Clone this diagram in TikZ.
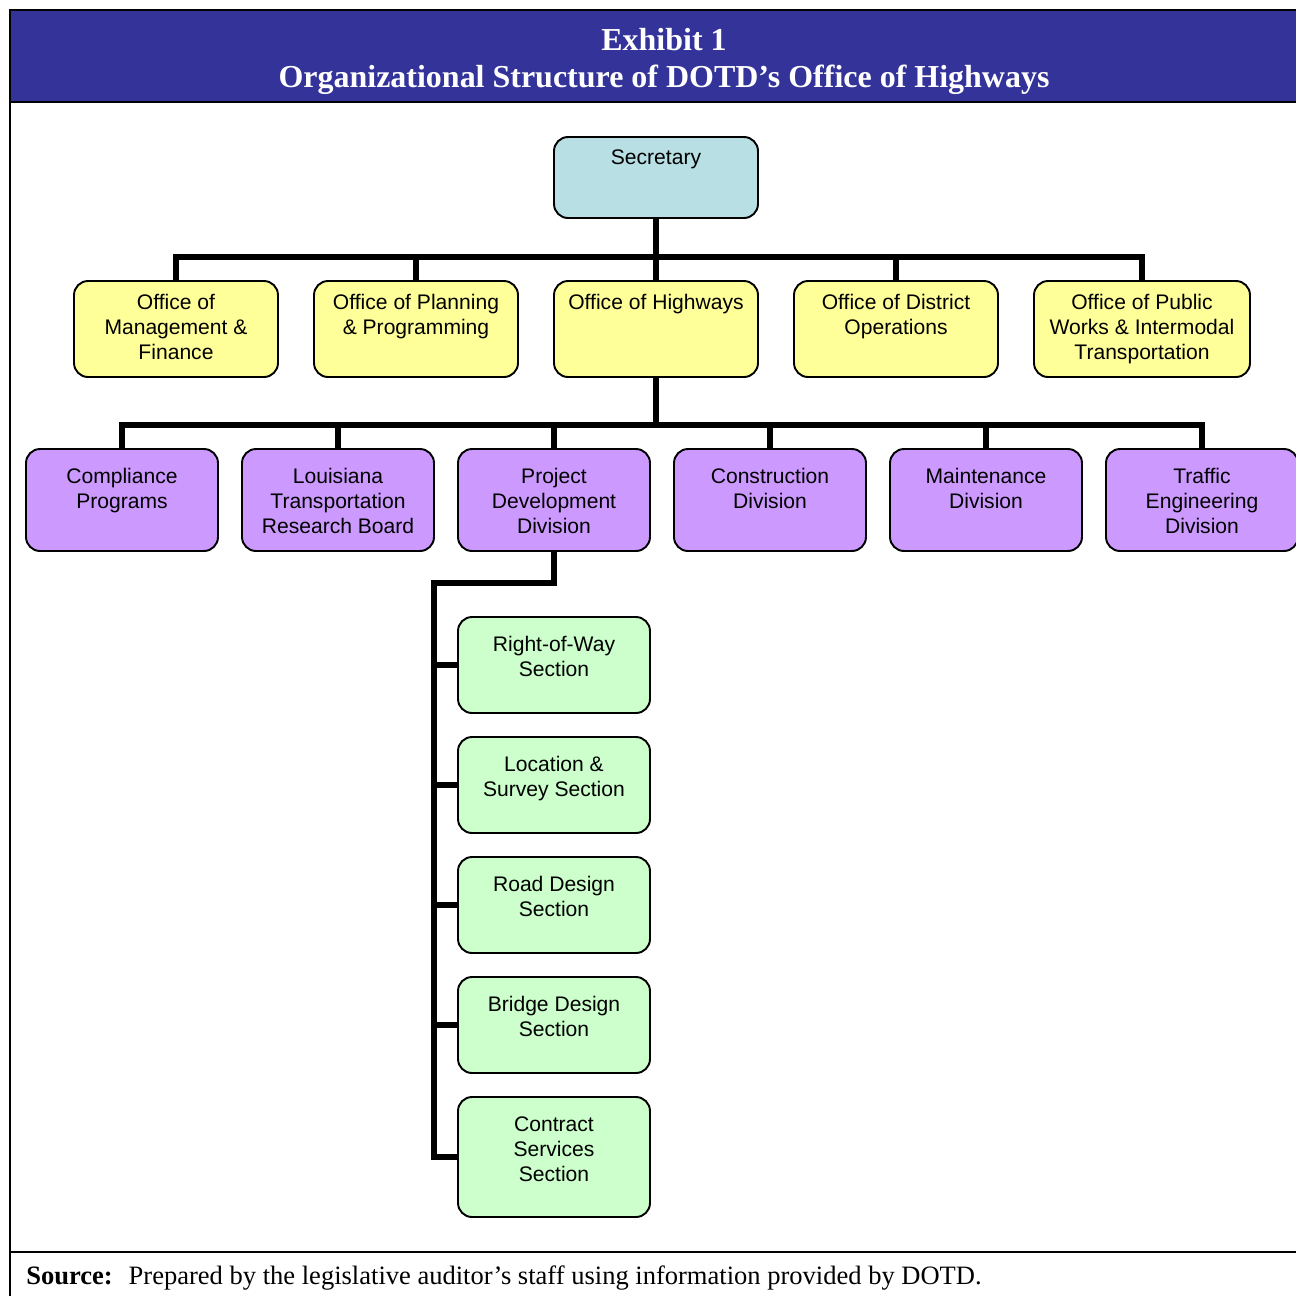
\documentclass[tikz,border=0pt]{standalone}
\usepackage{fontspec}
\setmainfont{Liberation Sans}
\newfontfamily\ttlfont{Liberation Serif}
\usetikzlibrary{positioning}

\definecolor{bandblue}{RGB}{51,51,153}
\definecolor{secblue}{RGB}{184,224,228}
\definecolor{offyellow}{RGB}{255,255,153}
\definecolor{divpurple}{RGB}{204,153,255}
\definecolor{secgreen}{RGB}{204,255,204}

\tikzset{
	orgbox/.style={draw, line width=1.1pt, rounded corners=0.28cm, inner sep=0pt},
	secbox/.style={orgbox, fill=secblue, minimum width=4.08cm, minimum height=1.62cm},
	offbox/.style={orgbox, fill=offyellow, minimum width=4.08cm, minimum height=1.92cm},
	divbox/.style={orgbox, fill=divpurple, minimum width=3.84cm, minimum height=2.04cm},
	sectbox/.style={orgbox, fill=secgreen, minimum width=3.84cm, minimum height=1.92cm},
	boxtext/.style={anchor=north, yshift=-0.27cm, inner sep=0pt, align=center, font=\fontsize{12pt}{14.2pt}\selectfont},
	lowtext/.style={boxtext, yshift=-0.13cm},
	conn/.style={line width=3.4pt}
}

\begin{document}
\begin{tikzpicture}[x=0.02cm, y=-0.02cm]
	\useasboundingbox (0,0) rectangle (1296,1296);
	
	% frame and title band
	\fill[bandblue] (10,10) rectangle (1300,102);
	\draw[line width=1.6pt] (1300,10) -- (10,10) -- (10,1300);
	\draw[line width=1.6pt] (10,102) -- (1300,102);
	\draw[line width=1.6pt] (10,1252) -- (1300,1252);
	\node[text=white, align=center, font=\ttlfont\bfseries\fontsize{18.2pt}{21pt}\selectfont] (title) at (664,61) {Exhibit 1\\Organizational Structure of DOTD’s Office of Highways};
	\node[anchor=west, inner sep=0pt, font=\ttlfont\fontsize{15.1pt}{17pt}\selectfont] (source) at (26,1278) {\textbf{Source:}\hskip .6em Prepared by the legislative auditor’s staff using information provided by DOTD.};
	
	% secretary
	\node[secbox, label={[boxtext]north:Secretary}] (sec) at (656,177.5) {};
	
	% offices
	\node[offbox, label={[boxtext]north:Office of\\Management \&\\Finance}] (omf) at (176,329) {};
	\node[offbox, label={[boxtext]north:Office of Planning\\\& Programming}] (opp) at (416,329) {};
	\node[offbox, label={[boxtext]north:Office of Highways}] (ohw) at (656,329) {};
	\node[offbox, label={[boxtext]north:Office of District\\Operations}] (odo) at (896,329) {};
	\node[offbox, minimum width=4.32cm, label={[boxtext]north:Office of Public\\Works \& Intermodal\\Transportation}] (opw) at (1142,329) {};
	
	% divisions
	\node[divbox, label={[lowtext]north:Compliance\\Programs}] (cp) at (122,500) {};
	\node[divbox, label={[lowtext]north:Louisiana\\Transportation\\Research Board}] (ltrb) at (338,500) {};
	\node[divbox, label={[lowtext]north:Project\\Development\\Division}] (pdd) at (554,500) {};
	\node[divbox, label={[lowtext]north:Construction\\Division}] (cd) at (770,500) {};
	\node[divbox, label={[lowtext]north:Maintenance\\Division}] (md) at (986,500) {};
	\node[divbox, label={[lowtext]north:Traffic\\Engineering\\Division}] (ted) at (1202,500) {};
	
	% sections
	\node[sectbox, label={[lowtext]north:Right-of-Way\\Section}] (row) at (554,665) {};
	\node[sectbox, label={[lowtext]north:Location \&\\Survey Section}] (ls) at (554,785) {};
	\node[sectbox, label={[lowtext]north:Road Design\\Section}] (rd) at (554,905) {};
	\node[sectbox, label={[lowtext]north:Bridge Design\\Section}] (bd) at (554,1025) {};
	\node[sectbox, minimum height=2.4cm, label={[lowtext]north:Contract\\Services\\Section}] (cs) at (554,1157) {};
	
	% connectors
	\coordinate (busA) at (656,257);
	\coordinate (busB) at (656,425);
	\coordinate (busC) at (434,583);
	
	\draw[conn] (sec.south) -- (ohw.north);
	\draw[conn] (omf.north) |- (busA) -| (opw.north);
	\draw[conn] (opp.north) -- (opp.north |- busA);
	\draw[conn] (odo.north) -- (odo.north |- busA);
	
	\draw[conn] (ohw.south) -- (busB);
	\draw[conn] (cp.north) |- (busB) -| (ted.north);
	\foreach \d in {ltrb,pdd,cd,md}
		\draw[conn] (\d.north) -- (\d.north |- busB);
	
	\draw[conn] (pdd.south) |- (busC) |- (cs.west);
	\foreach \s in {row,ls,rd,bd}
		\draw[conn] (\s.west) -- (\s.west -| busC);
\end{tikzpicture}
\end{document}
